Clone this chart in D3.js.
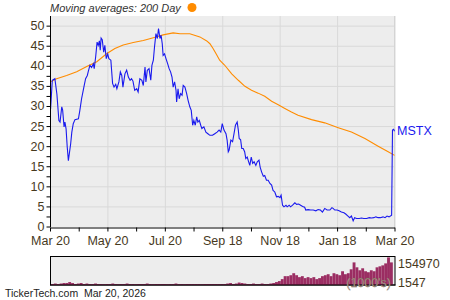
<!DOCTYPE html>
<html>
<head>
<meta charset="utf-8">
<script src="https://cdn.jsdelivr.net/npm/d3@7"></script>
<style>
  body { margin: 0; background: #fff; }
  svg { font-family: "Liberation Sans", Arial, sans-serif; display: block; }
  .axis .tick text { fill: #47391d; font-size: 12.5px; }
  .axis path, .axis line { stroke: #000; }
  .grid line { stroke: #d9d9d9; }
  .grid path { display: none; }
</style>
</head>
<body>
<svg id="chart" width="450" height="300"></svg>
<script>

// tick labels (months since start, every 2 months)
var monthLabels = ["Mar 20", "May 20", "Jul 20", "Sep 18", "Nov 18", "Jan 18", "Mar 20"];

// closing price, x = months since start
var priceMonth = [0.02,0.08,0.17,0.24,0.31,0.35,0.41,0.44,0.49,0.52,0.56,0.60,0.64,0.72,0.76,0.81,0.87,0.99,1.04,1.10,
  1.18,1.24,1.30,1.33,1.39,1.45,1.51,1.54,1.59,1.64,1.68,1.72,1.75,1.78,1.82,1.87,1.91,1.96,2.01,2.05,
  2.12,2.18,2.23,2.29,2.33,2.40,2.45,2.50,2.54,2.61,2.67,2.73,2.79,2.84,2.89,2.95,3.02,3.07,3.13,3.20,
  3.25,3.31,3.34,3.39,3.45,3.51,3.55,3.60,3.64,3.69,3.74,3.78,3.83,3.87,3.91,3.94,3.99,4.04,4.10,4.15,
  4.20,4.25,4.29,4.34,4.39,4.41,4.46,4.50,4.55,4.60,4.64,4.70,4.76,4.81,4.87,4.92,4.97,5.01,5.06,5.11,
  5.15,5.20,5.25,5.29,5.36,5.43,5.50,5.57,5.66,5.74,5.82,5.89,5.95,6.00,6.06,6.13,6.17,6.21,6.24,6.30,
  6.36,6.41,6.46,6.52,6.56,6.59,6.64,6.68,6.73,6.78,6.82,6.87,6.92,6.96,7.01,7.06,7.11,7.17,7.22,7.28,
  7.32,7.37,7.43,7.48,7.54,7.60,7.66,7.72,7.77,7.83,7.89,7.95,8.01,8.05,8.10,8.15,8.22,8.26,8.33,8.38,
  8.45,8.53,8.59,8.66,8.73,8.80,8.87,8.91,8.99,9.08,9.17,9.26,9.34,9.42,9.49,9.57,9.65,9.75,9.82,9.86,
  9.92,10.00,10.07,10.15,10.24,10.30,10.38,10.44,10.50,10.56,10.61,10.68,10.77,10.85,10.93,11.03,11.12,11.20,11.28,11.35,
  11.43,11.51,11.60,11.67,11.74,11.81,11.90,11.93,11.97,12.00];
var priceValue = [29.2,36.4,36.8,33.0,26.4,26.0,29.8,29.0,24.8,26.0,24.3,19.8,16.4,20.6,23.5,25.6,26.6,26.8,28.9,31.8,
  34.7,36.8,37.6,38.5,40.1,39.6,40.5,39.3,42.2,45.9,45.1,46.2,43.9,46.9,46.5,43.4,45.1,41.8,43.0,41.8,
  41.4,35.6,34.7,35.4,34.3,36.0,38.5,37.6,34.7,38.0,38.9,37.2,36.4,36.8,36.2,33.9,34.3,33.5,36.8,36.4,
  35.1,39.7,36.0,38.9,39.3,36.4,40.1,41.4,44.7,48.0,46.8,49.3,46.8,47.6,45.5,42.6,43.0,41.8,40.5,39.3,
  38.5,37.2,34.7,36.0,33.9,31.0,34.3,31.8,33.1,32.7,35.1,34.7,33.1,31.4,29.8,28.9,25.2,26.4,25.2,27.3,
  26.0,26.4,25.2,24.4,24.8,23.5,23.1,22.7,22.7,23.1,23.5,24.0,23.5,25.6,24.0,23.1,21.5,18.6,19.0,21.5,
  21.1,23.1,25.2,26.0,24.0,21.9,21.6,19.4,19.4,18.6,16.9,17.3,16.1,15.2,17.3,15.7,16.1,15.2,16.1,16.5,
  14.8,13.6,12.5,12.7,11.5,11.5,10.7,10.3,9.0,8.6,7.4,7.5,7.2,7.8,5.3,4.9,5.3,4.9,5.3,4.9,
  5.3,5.9,5.5,5.6,5.3,5.0,4.8,4.1,4.2,4.1,4.1,3.9,4.2,4.1,3.6,4.5,4.1,4.1,4.7,4.5,
  4.1,4.1,3.9,3.6,3.4,3.1,2.6,2.2,2.6,1.4,2.2,2.0,2.0,2.1,2.0,2.0,2.2,2.1,2.2,2.4,
  2.2,2.2,2.4,2.2,2.6,2.4,2.8,24.0,24.2,23.7];

// 200 day moving average
var maMonth = [0.02,0.23,0.58,0.93,1.28,1.63,1.97,2.26,2.55,2.90,3.25,3.60,3.94,4.29,4.53,4.87,5.22,5.46,5.57,5.68,
  5.80,5.91,6.08,6.33,6.56,6.79,7.02,7.25,7.48,7.72,7.95,8.18,8.41,8.64,9.11,9.57,10.04,10.50,10.97,11.43,
  11.78,12.00];
var maValue = [36.0,36.8,37.6,38.5,39.8,41.0,43.0,44.3,45.2,45.8,46.3,47.0,47.7,48.2,48.0,48.0,47.2,46.2,45.5,44.3,
  42.8,41.4,40.2,38.0,36.4,34.9,33.9,33.2,32.4,31.2,30.3,29.4,28.5,27.7,26.6,25.8,24.6,23.5,21.9,20.0,
  18.6,17.7];

// volume (1000's), one bar per 0.1 month
var volume = [5500,8300,5500,8300,11000,11000,16500,11000,5500,8300,11000,5500,8300,5500,5500,8300,5500,5500,4400,5500,
  5500,8300,5500,4400,5500,5500,8300,5500,5500,4400,5500,5500,5500,8300,5500,4400,5500,5500,5500,5500,
  4400,5500,5500,8300,5500,5500,4400,5500,5500,5500,5500,5500,4400,5500,5500,5500,5500,5500,5500,5500,
  5500,8300,11000,5500,8300,13800,11000,8300,5500,5500,8300,5500,5500,8300,5500,5500,8300,11000,16500,22000,
  33000,49600,49600,55000,66200,55000,44100,49600,38600,44100,38600,44100,33000,38600,49600,55000,60600,49600,66200,60600,
  55000,77200,60600,66200,88200,126900,99300,82700,93800,77200,71700,82700,77200,99300,104800,110300,121300,154970,126900];

var volMax = 154970, volMin = 1547;

var svg = d3.select("#chart");

var pLeft = 50, pRight = 394.5, pTop = 16, pBottom = 227;

var x = d3.scaleLinear().domain([0, 12]).range([pLeft, pRight]);
var y = d3.scaleLinear().domain([0, 52.4]).range([226.5, pTop]);

// plot background
svg.append("rect")
  .attr("x", pLeft).attr("y", pTop)
  .attr("width", pRight - pLeft).attr("height", pBottom - pTop)
  .attr("fill", "#ededed");

// grid
svg.append("g").attr("class", "grid")
  .attr("transform", "translate(" + pLeft + ",0)")
  .call(d3.axisLeft(y).tickValues(d3.range(5, 51, 5)).tickSize(-(pRight - pLeft)).tickFormat(""));

svg.append("g").attr("class", "grid")
  .attr("transform", "translate(0," + pTop + ")")
  .call(d3.axisBottom(x).tickValues(d3.range(2, 13, 2)).tickSize(pBottom - pTop).tickSizeOuter(0).tickFormat(""));

// right border
svg.append("line")
  .attr("x1", pRight).attr("x2", pRight).attr("y1", pTop).attr("y2", pBottom)
  .attr("stroke", "#d4d4d4");

// lines
var line = d3.line().x(function(d) { return x(d[0]); }).y(function(d) { return y(d[1]); });

svg.append("path")
  .datum(d3.zip(maMonth, maValue))
  .attr("fill", "none")
  .attr("stroke", "#ff8c00")
  .attr("stroke-width", 1.1)
  .attr("d", line);

svg.append("path")
  .datum(d3.zip(priceMonth, priceValue))
  .attr("fill", "none")
  .attr("stroke", "#1a1aee")
  .attr("stroke-width", 1.1)
  .attr("d", line);

// axes
var yAxis = svg.append("g").attr("class", "axis")
  .attr("transform", "translate(" + (pLeft + 0.5) + ",0)")
  .call(d3.axisLeft(y).tickValues(d3.range(0, 52, 2.5)).tickSize(4).tickSizeOuter(0)
    .tickFormat(function(d) { return d % 5 === 0 ? d : ""; }));
yAxis.select(".domain").attr("d", "M0," + pTop + "V" + pBottom);
yAxis.selectAll(".tick text").attr("x", -6);

var xAxis = svg.append("g").attr("class", "axis")
  .attr("transform", "translate(0," + (pBottom + 0.5) + ")")
  .call(d3.axisBottom(x).tickValues(d3.range(0, 13)).tickSize(4).tickSizeOuter(0)
    .tickFormat(function(d) { return d % 2 === 0 ? monthLabels[d / 2] : ""; }));
xAxis.selectAll(".tick text").attr("y", 9);

// title / legend
svg.append("text")
  .attr("x", pLeft).attr("y", 12)
  .attr("font-size", 11).attr("font-style", "italic").attr("fill", "#333")
  .text("Moving averages: 200 Day");
svg.append("circle")
  .attr("cx", 192).attr("cy", 7.5).attr("r", 4.5)
  .attr("fill", "#ff8c00");

// symbol label
svg.append("text")
  .attr("x", 397).attr("y", y(priceValue[priceValue.length - 1]) + 4)
  .attr("font-size", 12.5).attr("fill", "#1a1aee")
  .text("MSTX");

// volume panel
var vTop = 256.5, vBottom = 285;
var vx = d3.scaleBand().domain(d3.range(volume.length)).range([pLeft + 1, pLeft + 1 + volume.length * 2.8725]).padding(0);
var vy = d3.scaleLinear().domain([0, 160000]).range([vBottom, vTop]);

svg.append("rect")
  .attr("x", pLeft + 0.5).attr("y", vTop)
  .attr("width", pRight - pLeft).attr("height", vBottom - vTop)
  .attr("fill", "#ededed").attr("stroke", "#000");

svg.append("g").selectAll("rect")
  .data(volume)
  .enter().append("rect")
    .attr("x", function(d, i) { return vx(i); })
    .attr("width", vx.bandwidth())
    .attr("y", function(d) { return vy(d); })
    .attr("height", function(d) { return vBottom - vy(d); })
    .attr("fill", "#9b2d62");

svg.append("line")
  .attr("x1", pLeft).attr("x2", pRight + 1).attr("y1", vBottom).attr("y2", vBottom)
  .attr("stroke", "#000");

svg.append("text")
  .attr("x", 391).attr("y", 286.5)
  .attr("text-anchor", "end")
  .attr("font-size", 12.5).attr("fill", "#b8aa9c").attr("stroke", "#6e5a4a").attr("stroke-width", 0.3)
  .text("(1000's)");

svg.append("text")
  .attr("x", 398).attr("y", 267.5)
  .attr("font-size", 12.5).attr("fill", "#47391d")
  .text(volMax);
svg.append("text")
  .attr("x", 398).attr("y", 286.5)
  .attr("font-size", 12.5).attr("fill", "#47391d")
  .text(volMin);

// footer
svg.append("text")
  .attr("x", 5).attr("y", 297)
  .attr("font-size", 10.5).attr("fill", "#222")
  .attr("xml:space", "preserve")
  .text("TickerTech.com  Mar 20, 2026");

</script>
</body>
</html>
